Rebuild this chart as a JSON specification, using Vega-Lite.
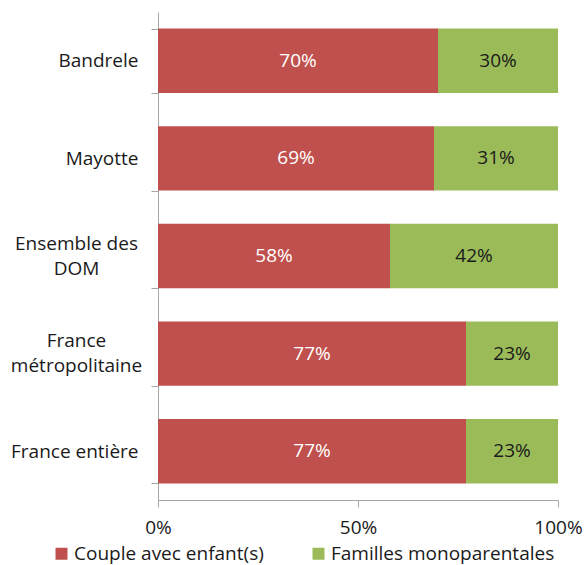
{
  "$schema": "https://vega.github.io/schema/vega-lite/v6.json",
  "width": 400,
  "height": 488,
  "autosize": {"type": "none"},
  "padding": {"left": 158, "top": 12, "right": 26, "bottom": 65},
  "background": "white",
  "config": {
    "view": {"stroke": null},
    "font": "Open Sans",
    "axis": {"labelFont": "Open Sans", "labelFontSize": 19, "labelColor": "#1a1a1a", "domainColor": "#a6a6a6", "tickColor": "#a6a6a6", "grid": false, "title": null},
    "legend": {"labelFont": "Open Sans", "labelFontSize": 19, "labelColor": "#1a1a1a", "labelLimit": 0}
  },
  "data": {
    "values": [
      {"lieu": "Bandrele", "type": "Couple avec enfant(s)", "value": 0.70},
      {"lieu": "Bandrele", "type": "Familles monoparentales", "value": 0.30},
      {"lieu": "Mayotte", "type": "Couple avec enfant(s)", "value": 0.69},
      {"lieu": "Mayotte", "type": "Familles monoparentales", "value": 0.31},
      {"lieu": "Ensemble des DOM", "type": "Couple avec enfant(s)", "value": 0.58},
      {"lieu": "Ensemble des DOM", "type": "Familles monoparentales", "value": 0.42},
      {"lieu": "France métropolitaine", "type": "Couple avec enfant(s)", "value": 0.77},
      {"lieu": "France métropolitaine", "type": "Familles monoparentales", "value": 0.23},
      {"lieu": "France entière", "type": "Couple avec enfant(s)", "value": 0.77},
      {"lieu": "France entière", "type": "Familles monoparentales", "value": 0.23}
    ]
  },
  "encoding": {
    "y": {
      "field": "lieu", "type": "nominal", "sort": null,
      "scale": {"paddingInner": 0.34, "paddingOuter": 0.17},
      "axis": {
        "tickBand": "extent",
        "tickSize": 7,
        "labelLineHeight": 25,
        "labelExpr": "datum.value == 'Ensemble des DOM' ? ['Ensemble des','DOM'] : datum.value == 'France métropolitaine' ? ['France','métropolitaine'] : datum.value",
        "labelAlign": {"condition": {"test": "datum.value == 'Ensemble des DOM' || datum.value == 'France métropolitaine'", "value": "center"}, "value": "right"},
        "labelPadding": {"condition": {"test": "datum.value == 'Ensemble des DOM' || datum.value == 'France métropolitaine'", "value": 75}, "value": 13},
        "labelOffset": {"condition": {"test": "datum.value == 'Ensemble des DOM' || datum.value == 'France métropolitaine'", "value": -13}, "value": 0}
      }
    }
  },
  "layer": [
    {
      "mark": {"type": "bar"},
      "encoding": {
        "x": {"field": "value", "type": "quantitative", "stack": "normalize",
          "scale": {"domain": [0, 1]},
          "axis": {"values": [0, 0.5, 1], "format": ".0%", "tickSize": 7, "labelPadding": 11, "labelFlush": false}},
        "order": {"field": "type", "sort": "ascending"},
        "color": {"field": "type", "type": "nominal",
          "scale": {"domain": ["Couple avec enfant(s)", "Familles monoparentales"], "range": ["#C0504D", "#9BBB59"]},
          "legend": {"title": null, "orient": "none", "direction": "horizontal", "legendX": -106, "legendY": 532, "symbolType": "square", "symbolSize": 144, "symbolStrokeWidth": 0, "columnPadding": 45, "labelOffset": 3, "padding": 0}}
      }
    },
    {
      "mark": {"type": "text", "fontSize": 19, "font": "Open Sans"},
      "encoding": {
        "x": {"field": "value", "type": "quantitative", "stack": "normalize", "bandPosition": 0.5},
        "detail": {"field": "type"},
        "order": {"field": "type", "sort": "ascending"},
        "text": {"field": "value", "type": "quantitative", "format": ".0%"},
        "color": {"condition": {"test": "datum.type == 'Couple avec enfant(s)'", "value": "white"}, "value": "#1a1a1a"}
      }
    }
  ]
}
